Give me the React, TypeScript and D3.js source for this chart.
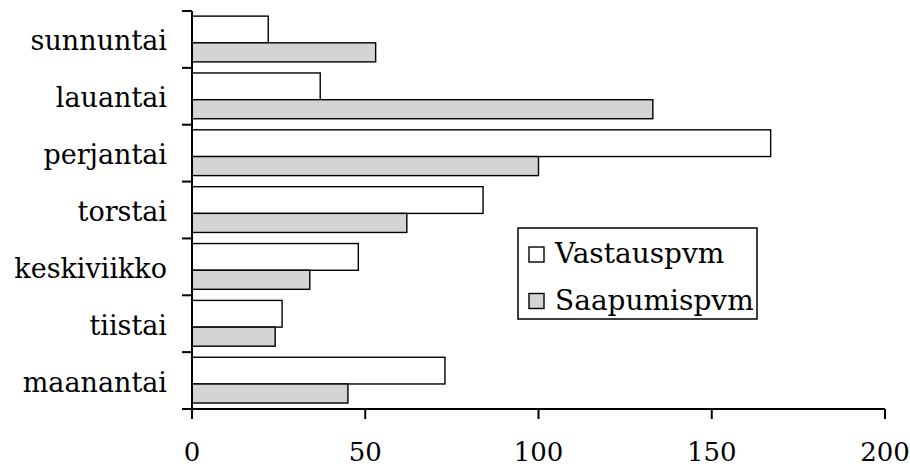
import * as d3 from 'd3'

const days = ['maanantai', 'tiistai', 'keskiviikko', 'torstai', 'perjantai', 'lauantai', 'sunnuntai']
const vastaus = [73, 26, 48, 84, 167, 37, 22]
const saapumis = [45, 24, 34, 62, 100, 133, 53]
const xTicks = [0, 50, 100, 150, 200]
const seriesNames = ['Vastauspvm', 'Saapumispvm']
const seriesFills = ['#ffffff', '#d4d4d4']

const W = 910
const H = 468
const font = 'DejaVu Serif, Liberation Serif, serif'

export default function App() {
    const x = d3.scaleLinear().domain([0, 200]).range([192, 885])
    // sunnuntai on top
    const y = d3.scaleBand().domain([...days].reverse()).range([11, 409]).padding(0)
    const bw = y.bandwidth()
    const bottom = 409

    return (
        <svg width={W} height={H} style={{ position: 'absolute', left: 0, top: 0, background: '#fff' }}>
            {days.map((d, i) => {
                const y0 = y(d) as number
                return (
                    <g key={d}>
                        <rect x={x(0)} y={y0 + bw * 0.09} width={x(vastaus[i]) - x(0)} height={bw * 0.47}
                            fill={seriesFills[0]} stroke="#000" strokeWidth={1.4} />
                        <rect x={x(0)} y={y0 + bw * 0.56} width={x(saapumis[i]) - x(0)} height={bw * 0.335}
                            fill={seriesFills[1]} stroke="#000" strokeWidth={1.4} />
                        <text x={167} y={y0 + bw / 2 + 11} textAnchor="end"
                            fontFamily={font} fontSize={27} fill="#000">{d}</text>
                    </g>
                )
            })}

            {/* y axis */}
            <line x1={x(0)} x2={x(0)} y1={11} y2={bottom + 10} stroke="#000" strokeWidth={2} />
            {[...y.domain().map(d => y(d) as number), bottom].map((t, i) => (
                <line key={i} x1={182} x2={x(0)} y1={t} y2={t} stroke="#000" strokeWidth={2} />
            ))}

            {/* x axis */}
            <line x1={182} x2={x(200)} y1={bottom} y2={bottom} stroke="#000" strokeWidth={2} />
            {xTicks.map(t => (
                <g key={t}>
                    <line x1={x(t)} x2={x(t)} y1={bottom} y2={bottom + 10} stroke="#000" strokeWidth={2} />
                    <text x={x(t)} y={461} textAnchor="middle" fontFamily={font} fontSize={26} fill="#000">{t}</text>
                </g>
            ))}

            {/* legend */}
            <rect x={518} y={228} width={239} height={91} fill="#fff" stroke="#000" strokeWidth={1.5} />
            {seriesNames.map((s, i) => (
                <g key={s}>
                    <rect x={529} y={247 + i * 46.5} width={15} height={15} fill={seriesFills[i]} stroke="#000" strokeWidth={1.4} />
                    <text x={555} y={263 + i * 46.5} fontFamily={font} fontSize={28} fill="#000">{s}</text>
                </g>
            ))}
        </svg>
    )
}
